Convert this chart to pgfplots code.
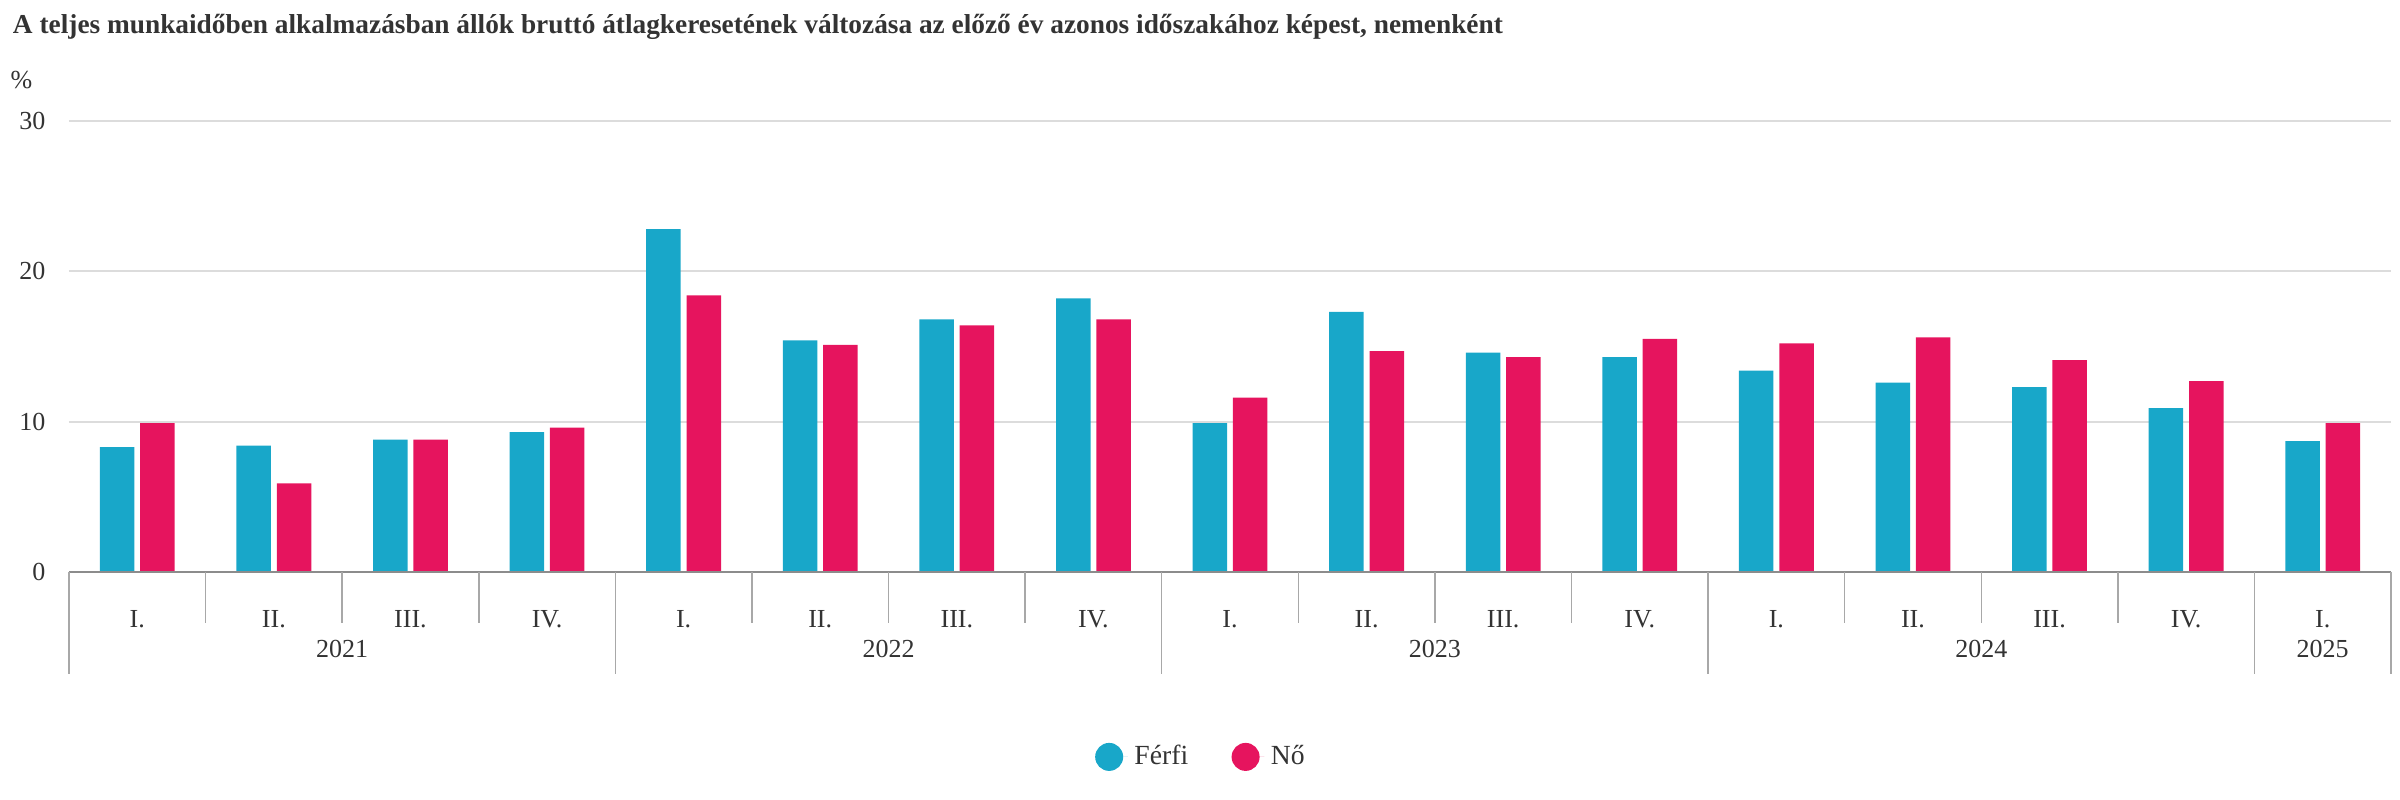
\documentclass[border=0pt]{standalone}
\usepackage{pgfplots}
\pgfplotsset{compat=1.18}
\usepackage{fontspec}
\setmainfont{Liberation Serif}
\definecolor{ferfi}{HTML}{18A7C9}
\definecolor{nocol}{HTML}{E6145E}
\definecolor{txt}{HTML}{333333}
\definecolor{gridc}{HTML}{DCDCDC}
\definecolor{axl}{HTML}{8C8C8C}
\definecolor{sepc}{HTML}{A8A8A8}
\begin{document}
\begin{tikzpicture}
\useasboundingbox (0,0) rectangle (720pt,240pt);
\node[anchor=west, inner sep=0pt, text=txt, font=\bfseries\fontsize{8.2}{10}\selectfont] at (3.7pt,232pt) {A teljes munkaidőben alkalmazásban állók bruttó átlagkeresetének változása az előző év azonos időszakához képest, nemenként};
\node[text=txt, inner sep=0pt, font=\fontsize{7.8}{9}\selectfont] at (6.4pt,216pt) {\%};
\begin{axis}[
 at={(20.7pt,68.4pt)}, anchor=south west, scale only axis,
 width=696.6pt, height=135.3pt,
 xmin=-0.5, xmax=16.5, ymin=0, ymax=30,
 ytick={0,10,20,30}, xtick=\empty,
 ymajorgrids, major grid style={draw=gridc, line width=0.6pt},
 axis line style={draw=none}, major tick length=0pt,
 /pgf/number format/assume math mode=true,
 yticklabel style={inner sep=0pt, xshift=-6.9pt, text=txt, font=\fontsize{7.8}{9}\selectfont},
 ybar=1.75pt, bar width=10.35pt,
 clip=false,
 legend columns=2,
 legend image code/.code={\fill[#1, draw=none] (0pt,0pt) circle (4.2pt); \path (-4.2pt,0pt) -- (5.6pt,0pt);},
 legend style={at={(0.4885,-0.41)}, anchor=center, draw=none, fill=none,
   font=\fontsize{8.3}{9}\selectfont, text=txt,
   /tikz/every even column/.append style={column sep=11pt}},
]
\addplot[fill=ferfi, draw=none] coordinates {(0,8.3) (1,8.4) (2,8.8) (3,9.3) (4,22.8) (5,15.4) (6,16.8) (7,18.2) (8,9.9) (9,17.3) (10,14.6) (11,14.3) (12,13.4) (13,12.6) (14,12.3) (15,10.9) (16,8.7)};
\addplot[fill=nocol, draw=none] coordinates {(0,9.9) (1,5.9) (2,8.8) (3,9.6) (4,18.4) (5,15.1) (6,16.4) (7,16.8) (8,11.6) (9,14.7) (10,14.3) (11,15.5) (12,15.2) (13,15.6) (14,14.1) (15,12.7) (16,9.9)};
\legend{Férfi, Nő}
\draw[axl, line width=0.7pt] (axis cs:-0.5,0) -- (axis cs:16.5,0);
% quarter separators
\draw[sepc, line width=0.45pt]
 (axis cs:0.5,0) -- ([yshift=-15.2pt]axis cs:0.5,0)
 (axis cs:1.5,0) -- ([yshift=-15.2pt]axis cs:1.5,0)
 (axis cs:2.5,0) -- ([yshift=-15.2pt]axis cs:2.5,0)
 (axis cs:4.5,0) -- ([yshift=-15.2pt]axis cs:4.5,0)
 (axis cs:5.5,0) -- ([yshift=-15.2pt]axis cs:5.5,0)
 (axis cs:6.5,0) -- ([yshift=-15.2pt]axis cs:6.5,0)
 (axis cs:8.5,0) -- ([yshift=-15.2pt]axis cs:8.5,0)
 (axis cs:9.5,0) -- ([yshift=-15.2pt]axis cs:9.5,0)
 (axis cs:10.5,0) -- ([yshift=-15.2pt]axis cs:10.5,0)
 (axis cs:12.5,0) -- ([yshift=-15.2pt]axis cs:12.5,0)
 (axis cs:13.5,0) -- ([yshift=-15.2pt]axis cs:13.5,0)
 (axis cs:14.5,0) -- ([yshift=-15.2pt]axis cs:14.5,0);
% year separators
\draw[sepc, line width=0.45pt]
 (axis cs:-0.5,0) -- ([yshift=-30.7pt]axis cs:-0.5,0)
 (axis cs:3.5,0) -- ([yshift=-30.7pt]axis cs:3.5,0)
 (axis cs:7.5,0) -- ([yshift=-30.7pt]axis cs:7.5,0)
 (axis cs:11.5,0) -- ([yshift=-30.7pt]axis cs:11.5,0)
 (axis cs:15.5,0) -- ([yshift=-30.7pt]axis cs:15.5,0)
 (axis cs:16.5,0) -- ([yshift=-30.7pt]axis cs:16.5,0);
\path[font=\fontsize{7.8}{9}\selectfont, text=txt]
 ([yshift=-14.1pt]axis cs:0,0) node{I.}
 ([yshift=-14.1pt]axis cs:1,0) node{II.}
 ([yshift=-14.1pt]axis cs:2,0) node{III.}
 ([yshift=-14.1pt]axis cs:3,0) node{IV.}
 ([yshift=-14.1pt]axis cs:4,0) node{I.}
 ([yshift=-14.1pt]axis cs:5,0) node{II.}
 ([yshift=-14.1pt]axis cs:6,0) node{III.}
 ([yshift=-14.1pt]axis cs:7,0) node{IV.}
 ([yshift=-14.1pt]axis cs:8,0) node{I.}
 ([yshift=-14.1pt]axis cs:9,0) node{II.}
 ([yshift=-14.1pt]axis cs:10,0) node{III.}
 ([yshift=-14.1pt]axis cs:11,0) node{IV.}
 ([yshift=-14.1pt]axis cs:12,0) node{I.}
 ([yshift=-14.1pt]axis cs:13,0) node{II.}
 ([yshift=-14.1pt]axis cs:14,0) node{III.}
 ([yshift=-14.1pt]axis cs:15,0) node{IV.}
 ([yshift=-14.1pt]axis cs:16,0) node{I.}
 ([yshift=-23.1pt]axis cs:1.5,0) node{2021}
 ([yshift=-23.1pt]axis cs:5.5,0) node{2022}
 ([yshift=-23.1pt]axis cs:9.5,0) node{2023}
 ([yshift=-23.1pt]axis cs:13.5,0) node{2024}
 ([yshift=-23.1pt]axis cs:16,0) node{2025};
\end{axis}
\end{tikzpicture}
\end{document}
